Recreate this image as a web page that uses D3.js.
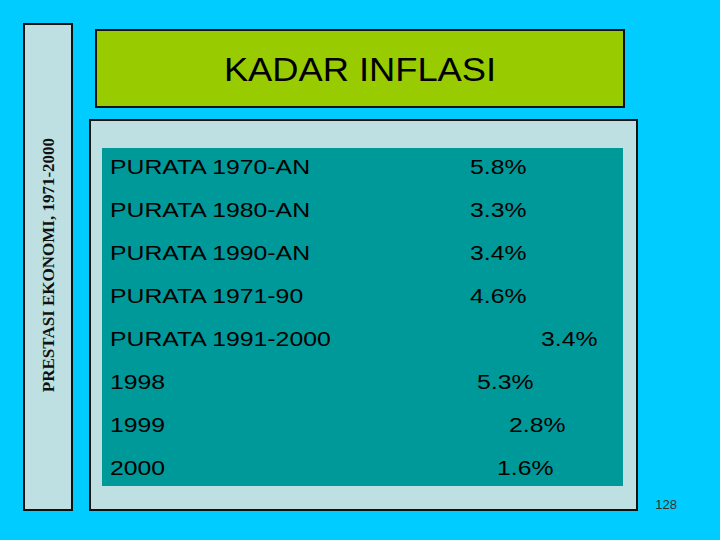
<!DOCTYPE html><html><head><script src="https://cdn.jsdelivr.net/npm/d3@7"></script>
<style>body{margin:0;background:#00CCFF}</style></head><body><script>
const labels=["PURATA 1970-AN","PURATA 1980-AN","PURATA 1990-AN","PURATA 1971-90","PURATA 1991-2000","1998","1999","2000"];
const values=["5.8%","3.3%","3.4%","4.6%","3.4%","5.3%","2.8%","1.6%"];
const valueX=[470,470,470,470,541,477,509,497];
const svg=d3.select("body").append("svg").attr("width",720).attr("height",540);
svg.append("rect").attr("width",720).attr("height",540).attr("fill","#00CCFF");
svg.append("rect").attr("x",24).attr("y",24).attr("width",48).attr("height",486).attr("fill","#BEE0E3").attr("stroke","#111").attr("stroke-width",2);
svg.append("text").attr("transform","translate(54,265) rotate(-90)").attr("text-anchor","middle").attr("font-family","Liberation Serif").attr("font-weight","bold").attr("font-size",17).attr("fill","#111").text("PRESTASI EKONOMI, 1971-2000");
svg.append("rect").attr("x",96).attr("y",30).attr("width",528).attr("height",77).attr("fill","#99CC00").attr("stroke","#111").attr("stroke-width",2);
svg.append("text").attr("transform","translate(360,81) scale(1.1,1)").attr("text-anchor","middle").attr("font-family","Liberation Sans, Arial").attr("font-size",33).text("KADAR INFLASI");
svg.append("rect").attr("x",90).attr("y",120).attr("width",547).attr("height",390).attr("fill","#BEE0E3").attr("stroke","#111").attr("stroke-width",2);
svg.append("rect").attr("x",102).attr("y",148).attr("width",521).attr("height",338).attr("fill","#009999");
const y=d3.scalePoint().domain(labels).range([167,468]);
const g=svg.append("g").attr("font-family","Liberation Sans, Arial").attr("font-size",21).attr("fill","#000");
g.selectAll(".l").data(labels).join("text").attr("transform",d=>`translate(110,${y(d)}) scale(1.18,1)`).attr("dy","0.35em").text(d=>d);
g.selectAll(".v").data(values).join("text").attr("transform",(d,i)=>`translate(${valueX[i]},${y(labels[i])}) scale(1.18,1)`).attr("dy","0.35em").text(d=>d);
svg.append("text").attr("x",677).attr("y",509).attr("text-anchor","end").attr("font-family","Liberation Sans, Arial").attr("font-size",13).attr("fill","#333").text("128");
</script></body></html>
